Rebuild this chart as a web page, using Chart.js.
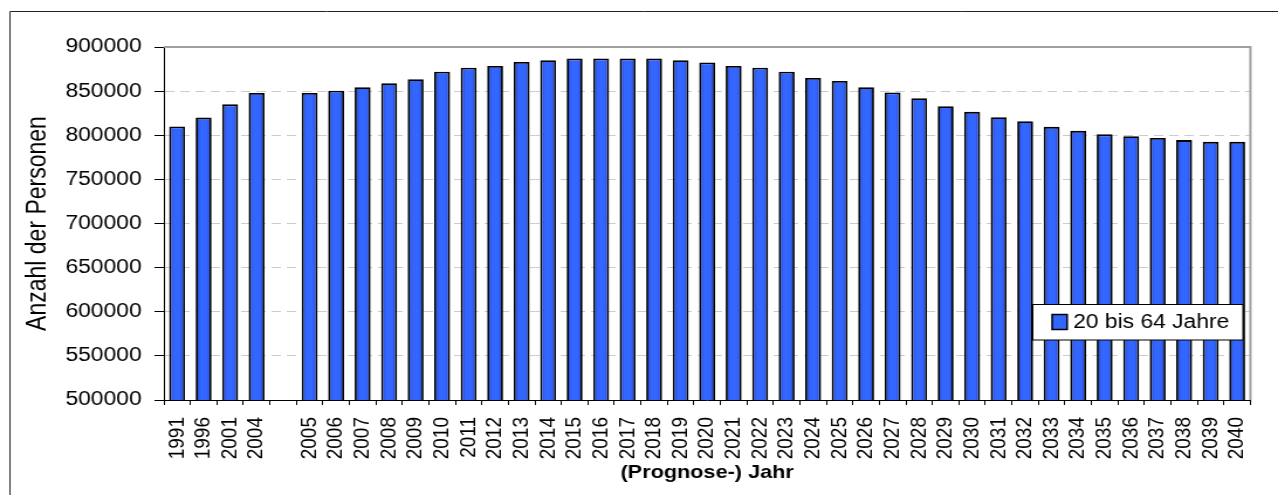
<!DOCTYPE html>
<html>
<head>
<meta charset="utf-8">
<script src="https://cdn.jsdelivr.net/npm/chart.js@4"></script>
<style>
  html, body { margin: 0; padding: 0; background: #fff; overflow: hidden; }
  #chart { display: block; width: 1278px !important; height: 495px !important; }
</style>
</head>
<body>
<canvas id="chart" width="1092" height="495" style="width:1278px;height:495px"></canvas>
<script>
// Chart data
const years = ["1991", "1996", "2001", "2004", "",
  "2005", "2006", "2007", "2008", "2009", "2010", "2011", "2012", "2013", "2014",
  "2015", "2016", "2017", "2018", "2019", "2020", "2021", "2022", "2023", "2024",
  "2025", "2026", "2027", "2028", "2029", "2030", "2031", "2032", "2033", "2034",
  "2035", "2036", "2037", "2038", "2039", "2040"];
const persons20to64 = [810000, 820000, 835000, 848000, null,
  848000, 850500, 854500, 859000, 863500, 872000, 876500, 878500, 883000, 885000,
  887000, 887000, 887000, 887000, 885000, 882500, 878500, 876500, 872000, 865000,
  861500, 854500, 848500, 842000, 833000, 826500, 820500, 816000, 809500, 805000,
  801000, 799000, 797000, 794500, 792500, 792500];
const yTicks = [500000, 550000, 600000, 650000, 700000, 750000, 800000, 850000, 900000];
const seriesLabel = "20 bis 64 Jahre";

const barBlue = "#3366ff";
const fontFamily = '"Liberation Sans", Arial, sans-serif';

// the original picture is a bit wider than tall, the canvas is stretched in css
Chart.defaults.font.family = fontFamily;
Chart.defaults.color = "#000";

// Shaded bar fill (darker edges)
function barFill(c) {
  if (c.dataIndex === undefined || !c.chart.chartArea) return barBlue;
  const xs = c.chart.scales.x;
  const cx = xs.getPixelForValue(c.dataIndex);
  const w = xs.width / years.length * 0.6;
  const g = c.chart.ctx.createLinearGradient(cx - w / 2, 0, cx + w / 2, 0);
  g.addColorStop(0, "#1f3fb8");
  g.addColorStop(0.3, barBlue);
  g.addColorStop(0.7, barBlue);
  g.addColorStop(1, "#1f3fb8");
  return g;
}

// Frame, plot border and legend box
const decorations = {
  id: "decorations",
  beforeDatasetsDraw(chart) {
    const { ctx, chartArea: a } = chart;
    ctx.save();
    ctx.strokeStyle = "#a0a0a0";
    ctx.lineWidth = 2;
    ctx.beginPath();
    ctx.moveTo(a.left, a.top);
    ctx.lineTo(a.right, a.top);
    ctx.lineTo(a.right, a.bottom);
    ctx.stroke();
    ctx.restore();
  },
  afterDraw(chart) {
    const ctx = chart.ctx;
    ctx.save();
    // outer frame
    ctx.strokeStyle = "#222";
    ctx.lineWidth = 1;
    ctx.beginPath();
    ctx.moveTo(8.5, 495);
    ctx.lineTo(8.5, 11.5);
    ctx.lineTo(chart.width, 11.5);
    ctx.stroke();

    // legend
    const ds = chart.data.datasets[0];
    ctx.fillStyle = "#fff";
    ctx.fillRect(882.5, 304, 179.5, 36);
    ctx.strokeStyle = "#000";
    ctx.lineWidth = 1;
    ctx.strokeRect(882.5, 304.5, 179.5, 35.5);
    ctx.fillStyle = barBlue;
    ctx.fillRect(899, 314.5, 12.8, 15);
    ctx.lineWidth = 1.5;
    ctx.strokeRect(899, 314.5, 12.8, 15);
    ctx.fillStyle = "#000";
    ctx.font = "19.5px " + fontFamily;
    ctx.textBaseline = "alphabetic";
    ctx.fillText(ds.label, 917, 328);
    ctx.restore();
  }
};

new Chart(document.getElementById("chart"), {
  type: "bar",
  data: {
    labels: years,
    datasets: [{
      label: seriesLabel,
      data: persons20to64,
      backgroundColor: barFill,
      borderColor: "#000",
      borderWidth: 1.8,
      barPercentage: 0.6,
      categoryPercentage: 1.0
    }]
  },
  options: {
    responsive: false,
    animation: false,
    events: [],
    layout: { padding: { left: 0, right: 8, top: 47, bottom: 0 } },
    plugins: {
      legend: { display: false },
      tooltip: { enabled: false }
    },
    scales: {
      x: {
        afterFit: s => { s.height = 95; },
        grid: {
          display: true,
          drawOnChartArea: false,
          drawTicks: true,
          tickLength: 5,
          tickColor: "#000",
          offset: true
        },
        border: { display: true, color: "#000", width: 1 },
        ticks: {
          autoSkip: false,
          maxRotation: 90,
          minRotation: 90,
          padding: 12,
          font: { size: 19 }
        },
        title: {
          display: true,
          text: "(Prognose-) Jahr",
          font: { size: 18.5, weight: "bold" },
          padding: { top: 0, bottom: 11 }
        }
      },
      y: {
        min: yTicks[0],
        max: yTicks[yTicks.length - 1],
        afterFit: s => { s.width = 140; },
        afterBuildTicks: s => { s.ticks = yTicks.map(v => ({ value: v })); },
        grid: {
          color: c => (c.tick && (c.tick.value === yTicks[0] || c.tick.value === yTicks[yTicks.length - 1])) ? "rgba(0,0,0,0)" : "#cccccc",
          lineWidth: 1,
          drawTicks: true,
          tickLength: 8,
          tickColor: "#000",
          tickBorderDash: []
        },
        border: { display: true, color: "#000", width: 1, dash: [8, 5] },
        ticks: {
          padding: 11,
          font: { size: 19.5 },
          callback: v => String(v)
        },
        title: {
          display: true,
          text: "Anzahl der Personen",
          font: { size: 23 },
          padding: { top: 18.5, bottom: 0 }
        }
      }
    }
  },
  plugins: [decorations]
});
</script>
</body>
</html>
